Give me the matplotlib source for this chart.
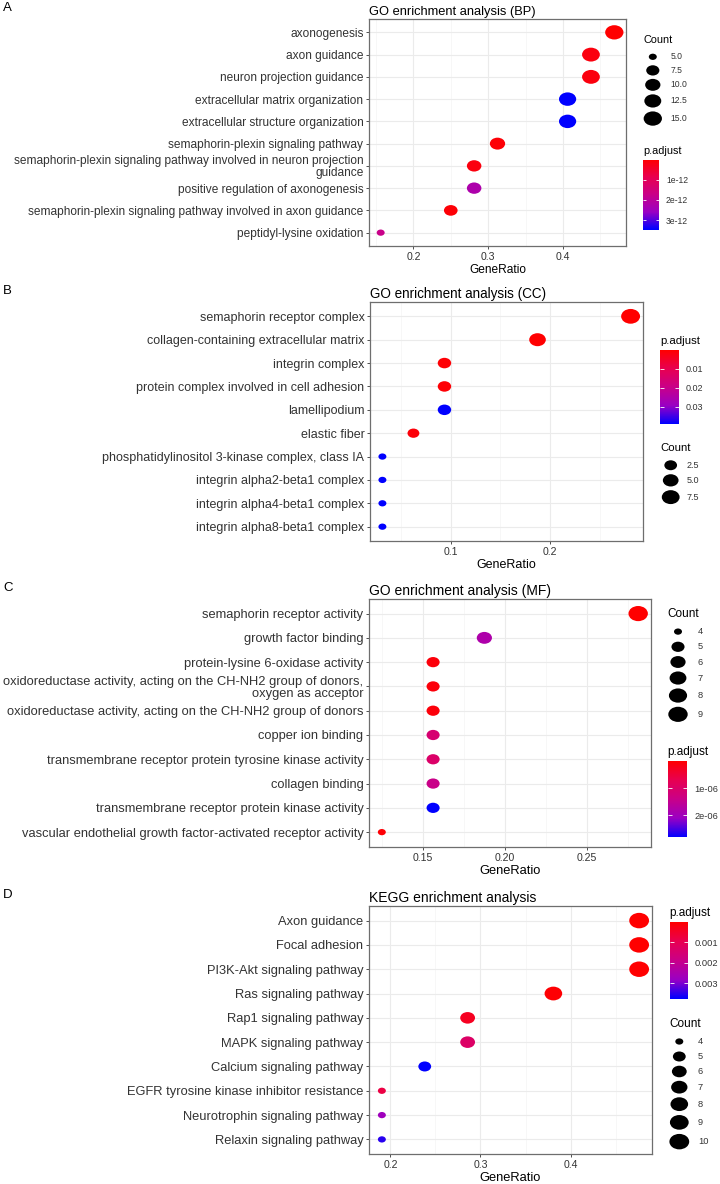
import numpy as np
import matplotlib
matplotlib.use("Agg")
import matplotlib.pyplot as plt
from matplotlib.colors import LinearSegmentedColormap, Normalize
from matplotlib.cm import ScalarMappable
from matplotlib.path import Path
from matplotlib.ticker import MultipleLocator, FormatStrFormatter

plt.rcParams["font.family"] = ["Liberation Sans", "DejaVu Sans"]

# ---- data ----
bp_terms = [
    "axonogenesis",
    "axon guidance",
    "neuron projection guidance",
    "extracellular matrix organization",
    "extracellular structure organization",
    "semaphorin-plexin signaling pathway",
    "semaphorin-plexin signaling pathway involved in neuron projection\nguidance",
    "positive regulation of axonogenesis",
    "semaphorin-plexin signaling pathway involved in axon guidance",
    "peptidyl-lysine oxidation",
]
bp_ratio = [15/32, 14/32, 14/32, 13/32, 13/32, 10/32, 9/32, 9/32, 8/32, 5/32]
bp_count = [15, 14, 14, 13, 13, 10, 9, 9, 8, 5]
bp_padj = [1e-17, 1.5e-13, 1.5e-13, 3.47e-12, 3.47e-12, 8e-14, 1.5e-13, 2.25e-12, 8e-14, 1.75e-12]

cc_terms = [
    "semaphorin receptor complex",
    "collagen-containing extracellular matrix",
    "integrin complex",
    "protein complex involved in cell adhesion",
    "lamellipodium",
    "elastic fiber",
    "phosphatidylinositol 3-kinase complex, class IA",
    "integrin alpha2-beta1 complex",
    "integrin alpha4-beta1 complex",
    "integrin alpha8-beta1 complex",
]
cc_ratio = [9/32, 6/32, 3/32, 3/32, 3/32, 2/32, 1/32, 1/32, 1/32, 1/32]
cc_count = [9, 6, 3, 3, 3, 2, 1, 1, 1, 1]
cc_padj = [0.0003, 0.0005, 0.001, 0.001, 0.039, 0.0015, 0.039, 0.039, 0.039, 0.039]

mf_terms = [
    "semaphorin receptor activity",
    "growth factor binding",
    "protein-lysine 6-oxidase activity",
    "oxidoreductase activity, acting on the CH-NH2 group of donors,\noxygen as acceptor",
    "oxidoreductase activity, acting on the CH-NH2 group of donors",
    "copper ion binding",
    "transmembrane receptor protein tyrosine kinase activity",
    "collagen binding",
    "transmembrane receptor protein kinase activity",
    "vascular endothelial growth factor-activated receptor activity",
]
mf_ratio = [9/32, 6/32, 5/32, 5/32, 5/32, 5/32, 5/32, 5/32, 5/32, 4/32]
mf_count = [9, 6, 5, 5, 5, 5, 5, 5, 5, 4]
mf_padj = [3e-9, 1.8e-6, 1e-7, 1e-7, 1e-7, 1.1e-6, 1.0e-6, 1.4e-6, 2.8e-6, 5e-8]

kegg_terms = [
    "Axon guidance",
    "Focal adhesion",
    "PI3K-Akt signaling pathway",
    "Ras signaling pathway",
    "Rap1 signaling pathway",
    "MAPK signaling pathway",
    "Calcium signaling pathway",
    "EGFR tyrosine kinase inhibitor resistance",
    "Neurotrophin signaling pathway",
    "Relaxin signaling pathway",
]
kegg_ratio = [10/21, 10/21, 10/21, 8/21, 6/21, 6/21, 5/21, 4/21, 4/21, 4/21]
kegg_count = [10, 10, 10, 8, 6, 6, 5, 4, 4, 4]
kegg_padj = [1e-5, 2e-5, 3e-5, 5e-5, 0.0004, 0.0013, 0.00374, 0.0008, 0.0027, 0.0035]

bp_size_breaks = [5, 7.5, 10, 12.5, 15]
bp_size_labels = ["5.0", "7.5", "10.0", "12.5", "15.0"]
cc_size_breaks = [2.5, 5.0, 7.5]
cc_size_labels = ["2.5", "5.0", "7.5"]
mf_size_breaks = [4, 5, 6, 7, 8, 9]
kegg_size_breaks = [4, 5, 6, 7, 8, 9, 10]

bp_cbar_ticks = [1e-12, 2e-12, 3e-12]
bp_cbar_labels = ["1e-12", "2e-12", "3e-12"]
cc_cbar_ticks = [0.01, 0.02, 0.03]
cc_cbar_labels = ["0.01", "0.02", "0.03"]
mf_cbar_ticks = [1e-6, 2e-6]
mf_cbar_labels = ["1e-06", "2e-06"]
kegg_cbar_ticks = [0.001, 0.002, 0.003]
kegg_cbar_labels = ["0.001", "0.002", "0.003"]

# ---- style ----
W, H = 720, 1184
PT = 0.72          # points per pixel at dpi 100
ASPECT = 1.28      # dots in the figure are stretched sideways
WMIN = 8.0
TXT = "#333333"

cmap = LinearSegmentedColormap.from_list(
    "gg", ["#FF0000", "#E80050", "#C90088", "#9A00C3", "#0000FF"])
circ = Path.unit_circle()
ELL = Path(circ.vertices * [ASPECT, 1.0], circ.codes)

fig = plt.figure(figsize=(W / 100, H / 100), dpi=100)
overlay = fig.add_axes([0, 0, 1, 1])
overlay.set_xlim(0, W)
overlay.set_ylim(H, 0)
overlay.axis("off")


def px_axes(x0, y0, x1, y1):
    return fig.add_axes([x0 / W, 1 - y1 / H, (x1 - x0) / W, (y1 - y0) / H])


def dot_w(c, cmin, cmax, wmax):
    c = np.asarray(c, dtype=float)
    return WMIN + (wmax - WMIN) * np.sqrt((c - cmin) / (cmax - cmin))


panels = [
    dict(letter="A", letter_y=8, title="GO enrichment analysis (BP)",
         terms=bp_terms, ratio=bp_ratio, count=bp_count, padj=bp_padj,
         box=(369, 19, 626, 246), fs=1.0, wmax=18.3, step=0.1, fmt="%.1f",
         lsp=0.92, leg_x=643, count_y=40, padj_y=150.5,
         cbar=(16, 70), dot_dx=9.8, lab_dx=27.5, kmin=13.6,
         breaks=bp_size_breaks, blabels=bp_size_labels,
         cticks=bp_cbar_ticks, clabels=bp_cbar_labels),
    dict(letter="B", letter_y=291, title="GO enrichment analysis (CC)",
         terms=cc_terms, ratio=cc_ratio, count=cc_count, padj=cc_padj,
         box=(370, 302.3, 643, 540.7), fs=1.05, wmax=18.9, step=0.1, fmt="%.1f",
         lsp=0.95, leg_x=660, count_y=448, padj_y=341,
         cbar=(19, 74), dot_dx=10.7, lab_dx=27, kmin=14.5,
         breaks=cc_size_breaks, blabels=cc_size_labels,
         cticks=cc_cbar_ticks, clabels=cc_cbar_labels),
    dict(letter="C", letter_y=588, title="GO enrichment analysis (MF)",
         terms=mf_terms, ratio=mf_ratio, count=mf_count, padj=mf_padj,
         box=(369, 599, 651, 846.7), fs=1.08, wmax=19.4, step=0.05, fmt="%.2f",
         lsp=1.0, leg_x=667.5, count_y=614, padj_y=751.7,
         cbar=(19.6, 76.7), dot_dx=10.5, lab_dx=30, kmin=15.2,
         breaks=mf_size_breaks, blabels=[str(b) for b in mf_size_breaks],
         cticks=mf_cbar_ticks, clabels=mf_cbar_labels),
    dict(letter="D", letter_y=895, title="KEGG enrichment analysis",
         terms=kegg_terms, ratio=kegg_ratio, count=kegg_count, padj=kegg_padj,
         box=(369, 906, 652, 1154), fs=1.08, wmax=19.8, step=0.1, fmt="%.1f",
         lsp=1.0, leg_x=669.5, count_y=1024, padj_y=913,
         cbar=(18.4, 76.7), dot_dx=9.8, lab_dx=28.5, kmin=15,
         breaks=kegg_size_breaks, blabels=[str(b) for b in kegg_size_breaks],
         cticks=kegg_cbar_ticks, clabels=kegg_cbar_labels),
]

for p in panels:
    fs = p["fs"]
    ratio = np.asarray(p["ratio"])
    count = np.asarray(p["count"], dtype=float)
    padj = np.asarray(p["padj"])
    n = len(p["terms"])
    ypos = np.arange(n)
    norm = Normalize(padj.min(), padj.max())
    cmin, cmax = count.min(), count.max()

    ax = px_axes(*p["box"])
    w = dot_w(count, cmin, cmax, p["wmax"])
    ax.scatter(ratio, ypos, s=(w * PT) ** 2, c=padj, cmap=cmap, norm=norm,
               marker=ELL, linewidths=0, zorder=3)
    span = ratio.max() - ratio.min()
    ax.set_xlim(ratio.min() - 0.05 * span, ratio.max() + 0.05 * span)
    ax.set_ylim(n - 1 + 0.6, -0.6)
    ax.xaxis.set_major_locator(MultipleLocator(p["step"]))
    ax.xaxis.set_minor_locator(MultipleLocator(p["step"] / 2))
    ax.xaxis.set_major_formatter(FormatStrFormatter(p["fmt"]))
    ax.set_yticks(ypos)
    ax.set_yticklabels(p["terms"], fontsize=8.6 * fs, color=TXT)
    for lab in ax.get_yticklabels():
        lab.set_linespacing(p["lsp"])
    ax.tick_params(axis="x", labelsize=7.6, labelcolor=TXT, pad=1.8)
    ax.tick_params(axis="y", pad=1.5)
    ax.tick_params(which="major", length=2.5, width=0.6, color="#333333")
    ax.tick_params(which="minor", length=0)
    ax.set_axisbelow(True)
    ax.grid(which="major", color="#EBEBEB", lw=0.8)
    ax.grid(which="minor", axis="x", color="#F4F4F4", lw=0.5)
    for sp in ax.spines.values():
        sp.set_color("#6E6E6E")
        sp.set_linewidth(0.9)
    ax.set_title(p["title"], loc="left", fontsize=9.3 * fs, pad=3)
    ax.set_xlabel("GeneRatio", fontsize=8.6 * fs, labelpad=1.5, color="black")

    fig.text(3 / W, 1 - p["letter_y"] / H, p["letter"], fontsize=9.5,
             va="center", ha="left")

    # size legend
    x0 = p["leg_x"]
    y0 = p["count_y"]
    overlay.text(x0, y0, "Count", fontsize=7.8 * fs, va="center", ha="left")
    bw = dot_w(p["breaks"], cmin, cmax, p["wmax"])
    keys = np.maximum(p["kmin"], bw)
    centers = y0 + 10 + keys[0] / 2 + np.concatenate(
        [[0], np.cumsum((keys[:-1] + keys[1:]) / 2)])
    overlay.scatter(np.full(len(bw), x0 + p["dot_dx"]), centers,
                    s=(bw * PT) ** 2, c="black", marker=ELL, linewidths=0)
    for yc, lab in zip(centers, p["blabels"]):
        overlay.text(x0 + p["lab_dx"], yc, lab, fontsize=6.2 * fs,
                     va="center", ha="left", color=TXT)

    # colour legend
    yt = p["padj_y"]
    overlay.text(x0, yt, "p.adjust", fontsize=7.8 * fs, va="center", ha="left")
    cw, ch = p["cbar"]
    cax = px_axes(x0, yt + 9, x0 + cw, yt + 9 + ch)
    cb = fig.colorbar(ScalarMappable(norm=norm, cmap=cmap), cax=cax)
    cb.outline.set_visible(False)
    cax.invert_yaxis()
    cax.set_yticks(p["cticks"])
    cax.set_yticklabels(p["clabels"])
    cax.tick_params(axis="y", direction="in", length=cw * 0.2 * PT, width=0.6,
                    color="white", left=True, right=True, labelleft=False,
                    labelright=True, labelsize=6.2 * fs, labelcolor=TXT, pad=5)
    cax.minorticks_off()

fig.savefig("out.png", dpi=100)
